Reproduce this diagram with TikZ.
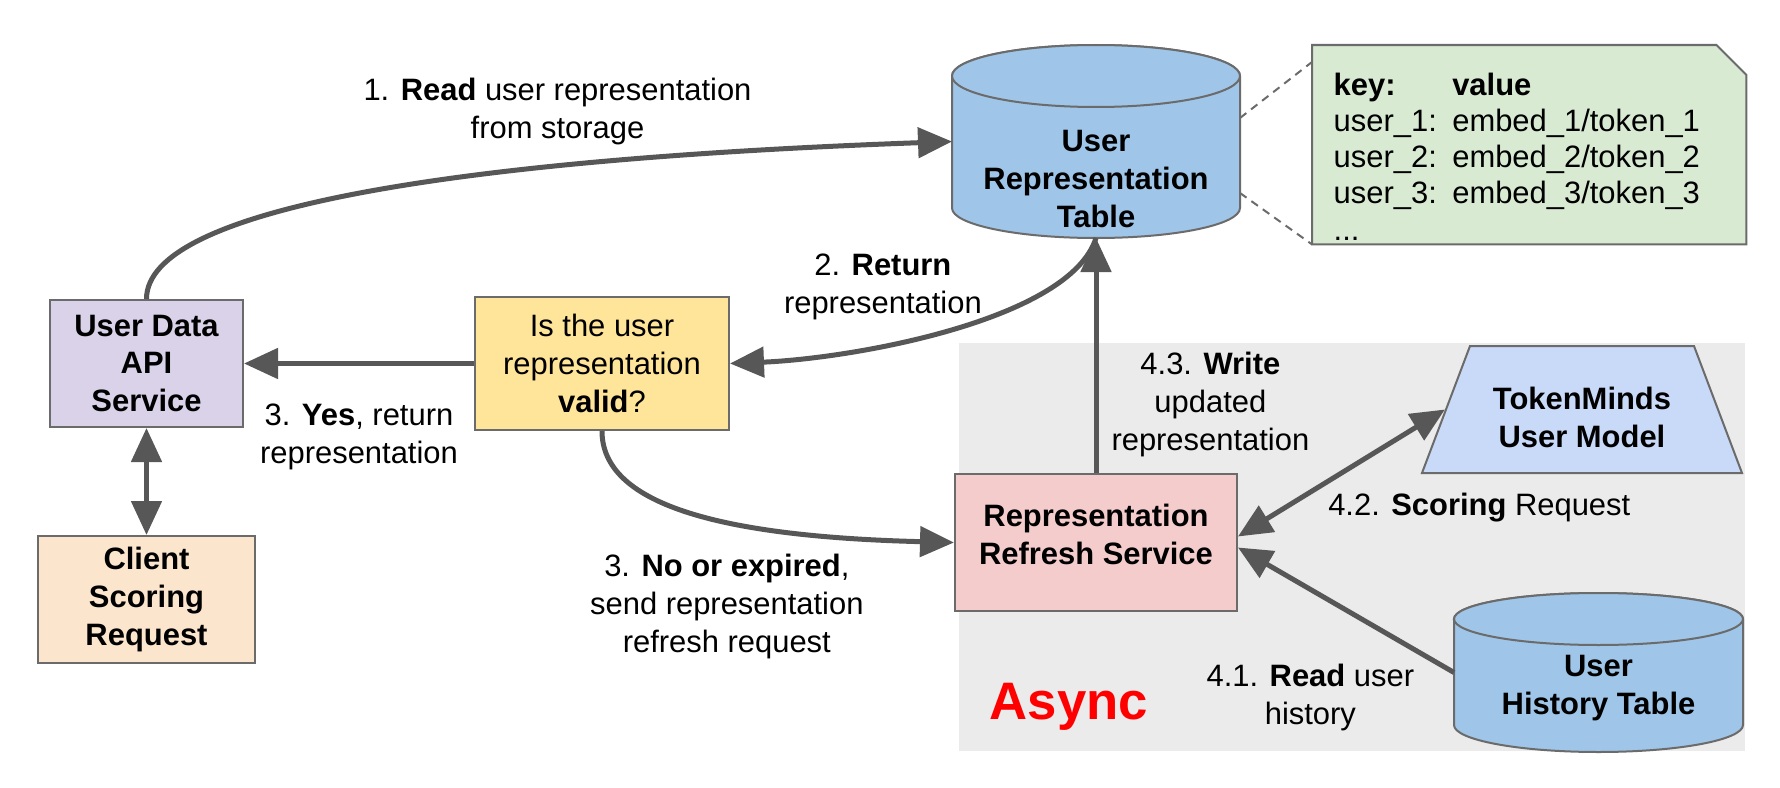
\documentclass[tikz,border=0pt]{standalone}
\usepackage{fontspec}
\setmainfont{Liberation Sans}
\definecolor{apiPurple}{HTML}{D9D2E9}
\definecolor{clientOrange}{HTML}{FCE5CD}
\definecolor{checkYellow}{HTML}{FFE599}
\definecolor{tableBlue}{HTML}{9FC5E8}
\definecolor{modelBlue}{HTML}{C9DAF8}
\definecolor{refreshRed}{HTML}{F4CCCC}
\definecolor{noteGreen}{HTML}{D9EAD3}
\definecolor{asyncGray}{HTML}{EBEBEB}
\definecolor{borderGray}{HTML}{6B6B6B}
\definecolor{arrowGray}{HTML}{575757}
\definecolor{asyncRed}{HTML}{FF0000}
\usetikzlibrary{shapes.geometric, arrows.meta, positioning, backgrounds}

\begin{document}
\begin{tikzpicture}[node distance=1cm]
    \tikzset{
        txt/.style={font=\fontsize{8.8}{10.8}\selectfont},
        btxt/.style={font=\fontsize{8.8}{10.8}\selectfont\bfseries},
        box/.style={rectangle, draw=borderGray, line width=0.02cm, align=center, inner sep=0.05cm},
        db/.style={rectangle, align=center, btxt, inner sep=0.05cm, outer sep=0pt},
        dbshape/.style={draw=borderGray, line width=0.02cm, fill=tableBlue},
        lbl/.style={txt, align=center, inner sep=0.05cm},
        arrow/.style={draw=arrowGray, line width=0.05cm, -{Triangle[length=0.34cm, width=0.3cm]}},
        twoway/.style={arrow, {Triangle[length=0.34cm, width=0.3cm]}-{Triangle[length=0.34cm, width=0.3cm]}},
        hint/.style={draw=borderGray, line width=0.02cm, dash pattern=on 0.08cm off 0.06cm}
    }
    \useasboundingbox (0,0) rectangle (17.8,-7.88);

    \node [font=\fontsize{15}{18}\selectfont\bfseries, text=asyncRed] (asynctxt) at (10.69,-7.07) {Async};

    \node [box, btxt, fill=apiPurple, minimum width=1.93cm, minimum height=1.27cm] (api) at (1.465,-3.635) {User Data\\API\\Service};
    \node [box, btxt, fill=clientOrange, minimum width=2.17cm, minimum height=1.27cm, below=1.07cm of api] (client) {Client\\Scoring\\Request};
    \node [box, txt, fill=checkYellow, minimum width=2.54cm, minimum height=1.33cm, right=2.30cm of api] (valid) {Is the user\\representation\\\textbf{valid}?};
    \node [db, minimum width=2.88cm, minimum height=1.93cm, text height=1.71cm, text depth=0cm] (reptable) at (10.96,-1.415) {User\\Representation\\Table};
    \node [box, btxt, fill=refreshRed, minimum width=2.82cm, minimum height=1.37cm, below=2.35cm of reptable, text height=0.55cm, text depth=0.12cm] (refresh) {Representation\\Refresh Service};
    \node [trapezium, trapezium angle=64, trapezium stretches body, draw=borderGray, line width=0.02cm, fill=modelBlue, align=center, btxt, minimum width=3.2cm, minimum height=1.27cm, text height=0.75cm, text depth=-0.1cm] (model) at (15.82,-4.095) {TokenMinds\\User Model};
    \node [db, minimum width=2.89cm, minimum height=1.59cm, text height=0.83cm, text depth=0cm] (history) at (15.985,-6.725) {User\\History Table};

    % key/value note
    \node [font=\fontsize{8.8}{10.3}\selectfont, align=left, text width=3.91cm, inner xsep=0.21cm, inner ysep=0cm, minimum width=4.33cm, minimum height=1.98cm, text height=0.46cm, anchor=north west] (note) at (13.12,-0.45) {\rlap{\textbf{key:}}\hphantom{user\_1: }\textbf{value}\\user\_1: embed\_1/token\_1\\user\_2: embed\_2/token\_2\\user\_3: embed\_3/token\_3\\...};

    \begin{scope}[on background layer]
        \fill [asyncGray] (9.59,-3.43) rectangle (17.45,-7.51);
        \draw [draw=borderGray, line width=0.02cm, fill=noteGreen] (note.south west) -- (note.north west) -- ([xshift=-0.3cm]note.north east) -- ([yshift=-0.3cm]note.north east) -- (note.south east) -- cycle;
        % cylinders
        \draw [dbshape] ([yshift=-0.31cm]reptable.north west) -- ([yshift=0.30cm]reptable.south west) arc [start angle=180, end angle=360, x radius=1.44cm, y radius=0.30cm] -- ([yshift=-0.31cm]reptable.north east) arc [start angle=0, end angle=180, x radius=1.44cm, y radius=0.31cm] -- cycle;
        \draw [dbshape] ([yshift=-0.31cm]reptable.north) ellipse [x radius=1.44cm, y radius=0.31cm];
        \draw [dbshape] ([yshift=-0.26cm]history.north west) -- ([yshift=0.27cm]history.south west) arc [start angle=180, end angle=360, x radius=1.445cm, y radius=0.27cm] -- ([yshift=-0.26cm]history.north east) arc [start angle=0, end angle=180, x radius=1.445cm, y radius=0.26cm] -- cycle;
        \draw [dbshape] ([yshift=-0.26cm]history.north) ellipse [x radius=1.445cm, y radius=0.26cm];
    \end{scope}
    \draw [hint] ([yshift=0.235cm]reptable.east) -- ([yshift=-0.17cm]note.north west);
    \draw [hint] ([yshift=-0.515cm]reptable.east) -- (note.south west);

    \draw [arrow] (api.north) .. controls +(0,0.9) and +(-5,-0.18) .. node[lbl, pos=0.7, above=0.14cm] {1. \textbf{Read} user representation\\from storage} (reptable.west);
    \draw [arrow] (reptable.south) .. controls +(-0.26,-0.82) and +(1.23,0.05) .. node[lbl, pos=0.42, anchor=south east, xshift=0.06cm, yshift=-0.08cm] {2. \textbf{Return}\\representation} (valid.east);
    \draw [arrow] (valid.west) -- node[lbl, below=0.33cm] {3. \textbf{Yes}, return\\representation} (api.east);
    \draw [twoway] (api.south) -- (client.north);
    \draw [arrow] (valid.south) .. controls +(0,-0.72) and +(-2.39,0.06) .. node[lbl, pos=0.6, below=0.25cm] {3. \textbf{No or expired},\\send representation\\refresh request} (refresh.west);
    \draw [arrow] (refresh.north) -- node[lbl, pos=0.29, right=0.08cm] {4.3. \textbf{Write}\\updated\\representation} (reptable.south);
    \draw [twoway] ([yshift=0.06cm]refresh.east) -- node[lbl, pos=0.4, anchor=north west] {4.2. \textbf{Scoring} Request} (model.left side);
    \draw [arrow] (history.west) -- node[lbl, pos=0.15, anchor=north east, yshift=-0.03cm] {4.1. \textbf{Read} user\\history} ([yshift=-0.05cm]refresh.east);
\end{tikzpicture}
\end{document}
